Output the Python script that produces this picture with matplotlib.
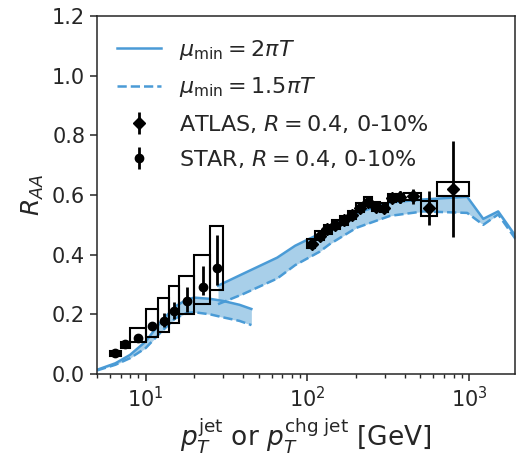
import matplotlib
matplotlib.use("Agg")
import matplotlib.pyplot as plt
from matplotlib.patches import Rectangle
from matplotlib.lines import Line2D

# Theory: R_AA vs jet pT for two choices of the minimum scale
pt_rhic = [5, 6.5, 8, 10, 12.2, 15.2, 18, 20, 25, 30, 38, 45]
raa_rhic_2pi = [0.014, 0.036, 0.064, 0.109, 0.17, 0.226, 0.25, 0.256, 0.252, 0.245, 0.232, 0.218]
raa_rhic_15pi = [0.012, 0.031, 0.053, 0.087, 0.136, 0.186, 0.205, 0.207, 0.200, 0.190, 0.178, 0.164]

pt_lhc = [28, 40, 65, 84, 119, 137, 201, 324, 520, 972, 1222, 1511, 1950]
raa_lhc_2pi = [0.296, 0.336, 0.39, 0.43, 0.47, 0.49, 0.54, 0.575, 0.585, 0.594, 0.52, 0.545, 0.46]
raa_lhc_15pi = [0.234, 0.268, 0.32, 0.365, 0.41, 0.435, 0.49, 0.53, 0.545, 0.54, 0.50, 0.535, 0.45]

# ATLAS, R = 0.4, 0-10%
atlas_edges = [100, 112, 126, 141, 158, 178, 200, 224, 251, 282, 316, 355, 398, 501, 631, 1000]
atlas_pt = [106, 119, 133, 149, 168, 189, 212, 237, 266, 298, 335, 376, 447, 562, 794]
atlas_raa = [0.436, 0.464, 0.485, 0.501, 0.516, 0.533, 0.558, 0.577, 0.561, 0.558,
             0.590, 0.592, 0.595, 0.556, 0.620]
atlas_stat = [0.008, 0.008, 0.008, 0.008, 0.008, 0.008, 0.008, 0.008, 0.008, 0.010,
              0.012, 0.020, 0.025, 0.056, 0.160]
atlas_sys = [0.015, 0.015, 0.015, 0.015, 0.015, 0.015, 0.015, 0.015, 0.015, 0.015,
             0.013, 0.013, 0.013, 0.025, 0.022]

# STAR, R = 0.4, 0-10%
star_edges = [6, 7, 8, 10, 12, 14, 16, 20, 25, 30]
star_pt = [6.5, 7.5, 9, 11, 13, 15, 18, 22.5, 27.5]
star_raa = [0.069, 0.099, 0.121, 0.161, 0.179, 0.210, 0.246, 0.291, 0.356]
star_stat_lo = [0.006, 0.006, 0.007, 0.013, 0.020, 0.025, 0.037, 0.026, 0.058]
star_stat_hi = [0.006, 0.006, 0.007, 0.013, 0.024, 0.030, 0.047, 0.071, 0.110]
star_sys_lo = [0.008, 0.013, 0.013, 0.036, 0.037, 0.040, 0.046, 0.057, 0.075]
star_sys_hi = [0.009, 0.009, 0.032, 0.056, 0.075, 0.085, 0.083, 0.107, 0.140]

line_color = "#4a9bd6"
fill_color = "#a8cfe9"
ink = "#262626"

plt.rcParams.update({
    "font.family": "DejaVu Sans",
    "text.color": ink,
    "axes.labelcolor": ink,
    "axes.edgecolor": ink,
    "xtick.color": ink,
    "ytick.color": ink,
    "mathtext.fontset": "dejavusans",
})

fig = plt.figure(figsize=(5.21, 4.62), dpi=100)
ax = fig.add_axes([97 / 521, 88 / 462, 418 / 521, 358 / 462])

for pt, up, lo in [(pt_rhic, raa_rhic_2pi, raa_rhic_15pi), (pt_lhc, raa_lhc_2pi, raa_lhc_15pi)]:
    ax.fill_between(pt, lo, up, color=fill_color, lw=0, zorder=1)
    ax.plot(pt, up, color=line_color, lw=1.8, zorder=2)
    ax.plot(pt, lo, color=line_color, lw=1.8, ls="--", zorder=2)

# systematic uncertainty boxes
for i, y in enumerate(atlas_raa):
    x0, x1 = atlas_edges[i], atlas_edges[i + 1]
    ax.add_patch(Rectangle((x0, y - atlas_sys[i]), x1 - x0, 2 * atlas_sys[i],
                           fill=False, ec="black", lw=1.5, zorder=3))
for i, y in enumerate(star_raa):
    x0, x1 = star_edges[i], star_edges[i + 1]
    ax.add_patch(Rectangle((x0, y - star_sys_lo[i]), x1 - x0, star_sys_lo[i] + star_sys_hi[i],
                           fill=False, ec="black", lw=1.5, zorder=3))

ax.errorbar(atlas_pt, atlas_raa, yerr=atlas_stat, fmt="D", color="black", ms=6,
            elinewidth=2, capsize=0, zorder=4)
ax.errorbar(star_pt, star_raa, yerr=[star_stat_lo, star_stat_hi], fmt="o", color="black",
            ms=6, elinewidth=2, capsize=0, zorder=4)

ax.set_xscale("log")
ax.set_xlim(5, 1920)
ax.set_ylim(0, 1.2)
ax.set_yticks([0.0, 0.2, 0.4, 0.6, 0.8, 1.0, 1.2])
ax.tick_params(axis="both", which="major", labelsize=15, length=5, width=1.1)
ax.tick_params(axis="x", which="minor", length=3, width=1.0)
for s in ax.spines.values():
    s.set_linewidth(1.1)

ax.set_xlabel(r"$p_T^{\rm jet}$ or $p_T^{\rm chg\ jet}$ [GeV]", fontsize=19)
ax.set_ylabel(r"$R_{AA}$", fontsize=18)

handles = [
    Line2D([], [], color=line_color, lw=1.8),
    Line2D([], [], color=line_color, lw=1.8, ls="--"),
    ax.errorbar([], [], yerr=[], fmt="D", color="black", ms=6, elinewidth=2),
    ax.errorbar([], [], yerr=[], fmt="o", color="black", ms=6, elinewidth=2),
]
labels = [
    r"$\mu_{\rm min} = 2\pi T$",
    r"$\mu_{\rm min} = 1.5\pi T$",
    r"ATLAS, $R = 0.4$, 0-10%",
    r"STAR, $R = 0.4$, 0-10%",
]
ax.legend(handles, labels, loc="upper left", bbox_to_anchor=(0.0, 0.994), frameon=False,
          fontsize=16, handlelength=2.0, labelspacing=0.6, borderaxespad=0.5)

fig.savefig("out.png", dpi=100)
